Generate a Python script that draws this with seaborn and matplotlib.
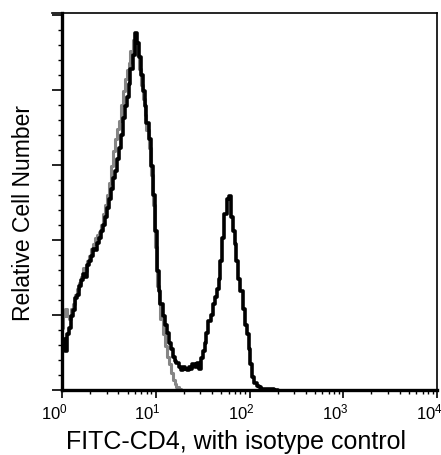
import matplotlib
matplotlib.use("Agg")
import matplotlib.pyplot as plt
from matplotlib.ticker import MultipleLocator, LogLocator, NullFormatter
from matplotlib.transforms import ScaledTranslation
import numpy as np
import pandas as pd
import seaborn as sns

# -------------------------------
# Data
# -------------------------------
# log10 of FITC intensity, one value per channel
log_fl = [
    0.00, 0.02, 0.04, 0.06, 0.09, 0.11, 0.13, 0.15, 0.17, 0.19,
    0.21, 0.23, 0.26, 0.28, 0.30, 0.32, 0.34, 0.36, 0.38, 0.40,
    0.43, 0.45, 0.47, 0.49, 0.51, 0.53, 0.55, 0.57, 0.60, 0.62,
    0.64, 0.66, 0.68, 0.70, 0.72, 0.74, 0.77, 0.79, 0.81, 0.83,
    0.85, 0.87, 0.89, 0.91, 0.94, 0.96, 0.98, 1.00, 1.02, 1.04,
    1.06, 1.09, 1.11, 1.13, 1.15, 1.17, 1.19, 1.21, 1.23, 1.26,
    1.28, 1.30, 1.32, 1.34, 1.36, 1.38, 1.40, 1.43, 1.45, 1.47,
    1.49, 1.51, 1.53, 1.55, 1.57, 1.60, 1.62, 1.64, 1.66, 1.68,
    1.70, 1.72, 1.74, 1.77, 1.79, 1.81, 1.83, 1.85, 1.87, 1.89,
    1.91, 1.94, 1.96, 1.98, 2.00, 2.02, 2.04, 2.06, 2.09, 2.11,
    2.13, 2.15, 2.17, 2.19, 2.21, 2.30,
]

# anti-CD4 stained cells (black)
cd4_counts = [
    27, 34, 26, 37, 41, 49, 53, 61, 63, 69,
    73, 77, 75, 83, 86, 89, 94, 93, 98, 101,
    106, 110, 115, 121, 127, 134, 141, 146, 154, 161,
    170, 181, 189, 195, 204, 214, 223, 238, 231, 222,
    210, 199, 189, 178, 167, 149, 130, 106, 79, 66,
    57, 49, 43, 38, 31, 27, 22, 19, 18, 15,
    13, 15, 14, 13, 15, 14, 17, 15, 18, 14,
    21, 26, 31, 38, 46, 50, 57, 62, 67, 74,
    86, 101, 117, 127, 129, 115, 106, 97, 86, 74,
    66, 54, 43, 37, 27, 17, 9, 5, 3, 2,
    1, 1, 1, 1, 1, 0,
]

# isotype control (gray)
iso_counts = [
    41, 49, 54, 49, 47, 54, 57, 63, 67, 71,
    75, 81, 79, 86, 89, 94, 97, 101, 103, 105,
    110, 117, 123, 130, 138, 149, 159, 167, 174, 179,
    190, 199, 207, 213, 218, 226, 233, 230, 223, 214,
    203, 194, 183, 173, 161, 143, 123, 95, 69, 58,
    47, 37, 29, 22, 17, 11, 7, 4, 2, 1,
    0,
]

X_LABEL = "FITC-CD4, with isotype control"
Y_LABEL = "Relative Cell Number"


def main():
    sns.set_style("ticks")
    plt.rcParams["font.family"] = ["Liberation Sans", "DejaVu Sans"]
    plt.rcParams["mathtext.fontset"] = "custom"
    plt.rcParams["mathtext.rm"] = "Liberation Sans"
    for key in ["axes.edgecolor", "text.color", "axes.labelcolor",
                "xtick.color", "ytick.color"]:
        plt.rcParams[key] = "black"

    cd4 = pd.DataFrame({"fl": [10 ** v for v in log_fl], "count": cd4_counts})
    iso = pd.DataFrame({"fl": [10 ** v for v in log_fl[:len(iso_counts)]],
                        "count": iso_counts})

    fig = plt.figure(figsize=(4.41, 4.56), dpi=100)
    ax = fig.add_axes([0.1406, 0.1425, 0.8504, 0.8268])

    sns.lineplot(data=iso, x="fl", y="count", ax=ax, color="#858585",
                 lw=2.2, drawstyle="steps-mid")
    sns.lineplot(data=cd4, x="fl", y="count", ax=ax, color="black",
                 lw=2.6, drawstyle="steps-mid")

    ax.set_xscale("log")
    ax.set_xlim(1, 1e4)
    ax.set_ylim(0, 251)
    ax.xaxis.set_major_locator(LogLocator(base=10, numticks=10))
    ax.xaxis.set_minor_locator(LogLocator(base=10, subs=np.arange(2, 10), numticks=20))
    ax.xaxis.set_minor_formatter(NullFormatter())
    ax.yaxis.set_major_locator(MultipleLocator(50))
    ax.yaxis.set_minor_locator(MultipleLocator(10))
    ax.set_yticklabels([])

    ax.tick_params(axis="both", which="major", direction="out", length=6,
                   width=1.2, labelsize=12, pad=2)
    ax.tick_params(axis="both", which="minor", direction="out", length=3,
                   width=1.0)
    ax.tick_params(axis="y", which="major", length=7)

    # tick labels sit a little left of their ticks in the original
    shift = ScaledTranslation(-8 / 100, 0, fig.dpi_scale_trans)
    for lab in ax.get_xticklabels():
        lab.set_transform(lab.get_transform() + shift)

    for side in ["left", "bottom"]:
        ax.spines[side].set_linewidth(2.4)
    for side in ["top", "right"]:
        ax.spines[side].set_linewidth(1.2)
    ax.spines["top"].set_bounds(10 ** (-10 / 94), 1e4)

    ax.set_xlabel(X_LABEL, fontsize=18)
    ax.xaxis.set_label_coords(0.464, -0.104)
    ax.set_ylabel(Y_LABEL, fontsize=16.5)
    ax.yaxis.set_label_coords(-0.072, 0.472)

    fig.savefig("out.png", dpi=100)
    plt.close(fig)


if __name__ == "__main__":
    main()
